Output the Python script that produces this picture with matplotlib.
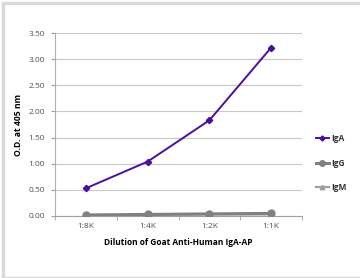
import matplotlib
matplotlib.use("Agg")
import matplotlib.pyplot as plt
from matplotlib.patches import Rectangle

categories = ["1:8K", "1:4K", "1:2K", "1:1K"]
iga = [0.53, 1.04, 1.83, 3.22]
igg = [0.02, 0.03, 0.04, 0.05]
igm = [0.01, 0.02, 0.03, 0.03]
yticks = [0.0, 0.5, 1.0, 1.5, 2.0, 2.5, 3.0, 3.5]

plt.rcParams['font.family'] = ['Open Sans', 'DejaVu Sans']

fig = plt.figure(figsize=(3.6, 2.78), dpi=100)
fig.patches.append(Rectangle((3/360, 0), 1.2, (278-3)/278, transform=fig.transFigure,
                             fill=False, edgecolor='#d9d9d9', linewidth=2.5, zorder=-1))
ax = fig.add_axes([55/360, 1-216/278, (302-55)/360, (216-33)/278])

x = list(range(len(categories)))
ax.plot(x, iga, color='#4b0fa0', lw=1.4, marker='D', ms=3.2, label='IgA', zorder=5)
ax.plot(x, igg, color='#808080', lw=2.2, marker='o', ms=5, label='IgG', zorder=4)
ax.plot(x, igm, color='#a0a0a0', lw=1.6, marker='^', ms=4, label='IgM', zorder=3)

ax.set_xlim(-0.5, 3.5)
ax.set_ylim(0, 3.5)
ax.set_yticks(yticks)
ax.set_yticklabels([f"{v:.2f}" for v in yticks])
ax.set_xticks(x)
ax.set_xticklabels(categories)
ax.set_xticks([-0.5, 0.5, 1.5, 2.5, 3.5], minor=True)
ax.tick_params(axis='x', which='major', length=0, labelsize=6, colors='#505050', pad=5)
ax.tick_params(axis='x', which='minor', length=3, color='#a0a0a0', direction='out')
ax.tick_params(axis='y', length=3, color='#a0a0a0', labelsize=6, labelcolor='#505050', pad=4)
ax.grid(axis='y', color='#c8c8c8', lw=0.8)
ax.set_axisbelow(True)
for s in ['top', 'right']:
    ax.spines[s].set_visible(False)
ax.spines['left'].set_color('#b0b0b0')
ax.spines['bottom'].set_color('#a0a0a0')
ax.spines['left'].set_linewidth(0.8)
ax.spines['bottom'].set_linewidth(0.8)

ax.set_ylabel('O.D. at 405 nm', fontsize=6.2, fontweight='bold', labelpad=4)
ax.set_xlabel('Dilution of Goat Anti-Human IgA-AP', fontsize=6.0, fontweight='bold', labelpad=6)

leg = fig.legend(loc='center left', bbox_to_anchor=(308/360, 1-163/278), frameon=False,
                 fontsize=6, handlelength=1.6, labelspacing=1.9, handletextpad=0.3,
                 markerscale=0.8)
for t in leg.get_texts():
    t.set_fontweight('bold')
    t.set_color('#333333')

fig.savefig('out.png', dpi=100)
